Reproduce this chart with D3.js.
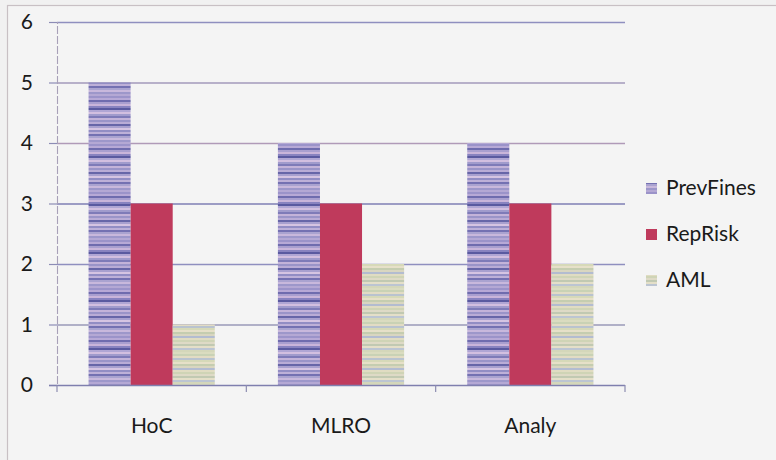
<!DOCTYPE html>
<html><head><meta charset="utf-8">
<script src="https://cdn.jsdelivr.net/npm/d3@7"></script>
<style>body{margin:0;background:#f1f1f1;} svg{display:block;}</style>
</head><body>
<svg id="c" width="776" height="460"></svg>
<script>
const categories = ["HoC", "MLRO", "Analy"];
const seriesNames = ["PrevFines", "RepRisk", "AML"];
const prevFines = [5, 4, 4];
const repRisk = [3, 3, 3];
const aml = [1, 2, 2];
const yTicks = [0, 1, 2, 3, 4, 5, 6];

const seriesValues = [prevFines, repRisk, aml];
const svg = d3.select("#c");
const font = "Lato, 'Open Sans', sans-serif";

// frame
svg.append("rect").attr("x", 0).attr("y", 0).attr("width", 776).attr("height", 460).attr("fill", "#f1f1f1");
svg.append("rect").attr("x", 7.5).attr("y", 5.5).attr("width", 770).attr("height", 460)
  .attr("fill", "#f4f4f4").attr("stroke", "#c8c0c4").attr("stroke-width", 1.2);

const defs = svg.append("defs");
function stripes(id, cols) {
  const p = defs.append("pattern").attr("id", id).attr("patternUnits", "userSpaceOnUse")
    .attr("width", 8).attr("height", cols.length * 2);
  cols.forEach((c, i) => p.append("rect").attr("x", 0).attr("y", i * 2).attr("width", 8).attr("height", 2).attr("fill", c));
}
stripes("pPrev", ["#9b93c9", "#b7a9d6", "#6f6cae", "#a99fcf", "#c9b5da", "#8883c0", "#5a5aa0", "#b0a6d4", "#d2bfe0", "#a09bcc", "#7e7bb8", "#c3b3d9", "#9a94c8", "#b9acd6", "#6766a8", "#a8a0cf", "#d5c4e2", "#928dc4", "#bdb0d8", "#7471b2", "#aaa3d0", "#c8b8dc", "#9d97ca", "#b4a8d4"]);
stripes("pAml", ["#dadcc0", "#c9d2b5", "#e2dcc4", "#b9c3cf", "#d6d9b8", "#e6e0c8", "#c5cdb0", "#d9d6c0", "#b3bcd0", "#e0dcc2", "#cfd4b6", "#dedac6", "#c1c9b2", "#e4dfc8", "#bcc5d2", "#d4d7ba"]);
const fills = ["url(#pPrev)", "#bf3a5c", "url(#pAml)"];

const x = d3.scaleBand().domain(categories).range([57, 625]).paddingInner(0).paddingOuter(0);
const xs = d3.scaleBand().domain(seriesNames).range([0, x.bandwidth()]).paddingInner(0).paddingOuter(0.75);
const y = d3.scaleLinear().domain([0, 6]).range([385, 22]);

// gridlines
const gridCols = ["#9a9ab8", "#8f8fbf", "#7f7fb5", "#b09ab8", "#a39abb", "#8f8fbf", "#b8a0b8"];
svg.append("g").selectAll("line").data(yTicks.filter(d => d > 0)).join("line")
  .attr("x1", 57).attr("x2", 625).attr("y1", d => y(d) + 0.5).attr("y2", d => y(d) + 0.5)
  .attr("stroke", (d, i) => gridCols[i]).attr("stroke-width", 1.3);

// bars
const g = svg.append("g");
categories.forEach((cat, ci) => {
  seriesNames.forEach((s, si) => {
    const v = seriesValues[si][ci];
    g.append("rect").attr("x", x(cat) + xs(s)).attr("width", xs.bandwidth())
      .attr("y", y(v)).attr("height", y(0) - y(v)).attr("fill", fills[si]);
  });
});

// y axis
const yAxis = svg.append("g").attr("transform", "translate(57,0)")
  .call(d3.axisLeft(y).tickValues(yTicks).tickSize(8).tickPadding(16).tickFormat(d3.format("d")));
yAxis.select(".domain").attr("stroke", "#a8a0b8").attr("stroke-width", 1.1).attr("stroke-dasharray", "8,2");
yAxis.selectAll(".tick line").attr("stroke", "#8c8cb5").attr("stroke-width", 1.2);
yAxis.selectAll("text").attr("font-family", font).attr("font-size", 21).attr("fill", "#1a1a1a");

// x axis
const xAxis = svg.append("g").attr("transform", "translate(0,385)")
  .call(d3.axisBottom(x).tickSize(0).tickPadding(33));
xAxis.select(".domain").remove();
svg.append("line").attr("x1", 49).attr("x2", 625).attr("y1", 385.5).attr("y2", 385.5).attr("stroke", "#7f7fae").attr("stroke-width", 1.3);
const bounds = [57, 57 + x.bandwidth(), 57 + 2 * x.bandwidth(), 625];
svg.append("g").selectAll("line").data(bounds).join("line")
  .attr("x1", d => d).attr("x2", d => d).attr("y1", 385).attr("y2", 392)
  .attr("stroke", "#8c8cb0").attr("stroke-width", 1.2);
xAxis.selectAll("text").attr("font-family", font).attr("font-size", 21).attr("fill", "#1a1a1a");

// legend
const lg = svg.append("g");
const ly = [188, 234, 280];
seriesNames.forEach((s, i) => {
  lg.append("rect").attr("x", 646).attr("y", ly[i] - 5).attr("width", 11).attr("height", 11).attr("fill", fills[i]);
  lg.append("text").attr("x", 666).attr("y", ly[i]).attr("dy", "0.35em").text(s)
    .attr("font-family", font).attr("font-size", 21).attr("fill", "#1a1a1a");
});
</script>
</body></html>
